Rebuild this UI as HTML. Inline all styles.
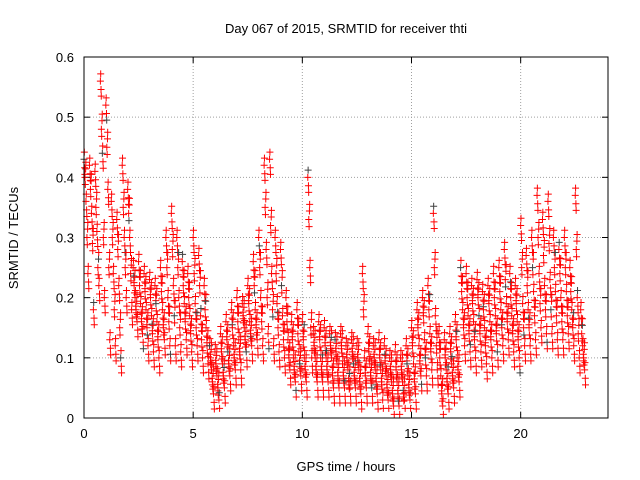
<!DOCTYPE html>
<html><head><meta charset="utf-8"><style>
body{margin:0;background:#fff}
svg{display:block;font-family:"Liberation Sans",sans-serif}
</style></head><body>
<svg id="chart" width="640" height="480">
<text x="346" y="33" text-anchor="middle" font-size="13">Day 067 of 2015, SRMTID for receiver thti</text>
<text x="346" y="471" text-anchor="middle" font-size="13">GPS time / hours</text>
<text transform="translate(18,238) rotate(-90)" text-anchor="middle" font-size="13">SRMTID / TECUs</text>
<g id="grid"></g><g id="ticks"></g><g id="points"></g>
<rect x="84" y="57" width="524" height="361" fill="none" stroke="#000" stroke-width="1"/>
</svg>
<script>
const xTicks=[0,5,10,15,20];
const yTicks=[0,0.1,0.2,0.3,0.4,0.5,0.6];
const yTickLabels=["0","0.1","0.2","0.3","0.4","0.5","0.6"];
const binTimes=[0,0.25,0.5,0.75,1,1.25,1.5,1.75,2,2.25,2.5,2.75,3,3.25,3.5,3.75,4,4.25,4.5,4.75,5,5.25,5.5,5.75,6,6.25,6.5,6.75,7,7.25,7.5,7.75,8,8.25,8.5,8.75,9,9.25,9.5,9.75,10,10.25,10.5,10.75,11,11.25,11.5,11.75,12,12.25,12.5,12.75,13,13.25,13.5,13.75,14,14.25,14.5,14.75,15,15.25,15.5,15.75,16,16.25,16.5,16.75,17,17.25,17.5,17.75,18,18.25,18.5,18.75,19,19.25,19.5,19.75,20,20.25,20.5,20.75,21,21.25,21.5,21.75,22,22.25,22.5,22.75];
const binValues=[
[.43,.40,.36,.30,.24],[.42,.38,.34,.29,.18],[.41,.35,.31,.25,.22],[.56,.48,.44,.30,.20],[.52,.45,.38,.25,.13],
[.36,.30,.24,.18,.12],[.33,.28,.22,.15,.10],[.42,.35,.30,.25,.20],[.38,.34,.30,.24,.18],[.25,.22,.20,.18,.16],
[.26,.22,.19,.16,.14],[.24,.21,.18,.15,.12],[.23,.20,.17,.14,.11],[.22,.19,.16,.13,.10],[.25,.21,.18,.15,.13],
[.30,.25,.20,.16,.12],[.34,.28,.22,.17,.12],[.30,.25,.20,.15,.11],[.26,.22,.19,.16,.13],[.24,.20,.17,.14,.11],
[.30,.24,.19,.15,.12],[.27,.22,.17,.13,.10],[.22,.18,.15,.12,.09],[.12,.10,.08,.06,.04],[.11,.09,.07,.05,.03],
[.14,.11,.09,.07,.05],[.16,.13,.11,.09,.07],[.18,.15,.12,.10,.08],[.20,.16,.13,.11,.08],[.19,.17,.15,.13,.11],
[.22,.19,.16,.14,.12],[.26,.22,.18,.15,.13],[.30,.25,.20,.16,.12],[.42,.35,.28,.20,.14],[.43,.32,.24,.18,.12],
[.30,.24,.19,.15,.11],[.28,.22,.17,.13,.10],[.20,.16,.13,.10,.08],[.16,.13,.10,.08,.06],[.18,.14,.11,.09,.07],
[.16,.13,.10,.08,.06],[.40,.33,.25,.15,.10],[.14,.12,.10,.08,.06],[.16,.13,.10,.08,.06],[.15,.12,.10,.08,.06],
[.14,.12,.10,.07,.05],[.13,.11,.09,.07,.05],[.14,.12,.09,.07,.05],[.12,.10,.08,.06,.05],[.13,.11,.09,.07,.05],
[.12,.10,.08,.06,.04],[.24,.18,.10,.07,.05],[.14,.11,.09,.07,.05],[.12,.10,.08,.06,.04],[.13,.10,.08,.06,.03],
[.12,.09,.07,.05,.03],[.10,.08,.06,.04,.02],[.11,.08,.06,.04,.02],[.10,.08,.06,.04,.03],[.12,.09,.07,.05,.03],
[.15,.12,.09,.06,.04],[.18,.15,.12,.09,.07],[.20,.17,.13,.10,.07],[.22,.18,.14,.11,.08],[.34,.25,.17,.12,.08],
[.14,.10,.07,.04,.02],[.13,.10,.08,.06,.04],[.14,.11,.09,.07,.05],[.16,.13,.10,.08,.06],[.25,.21,.18,.15,.12],
[.24,.20,.17,.14,.11],[.22,.19,.16,.13,.10],[.23,.20,.17,.14,.11],[.21,.18,.15,.12,.09],[.22,.19,.16,.13,.10],
[.24,.20,.17,.14,.11],[.25,.21,.18,.15,.12],[.28,.23,.19,.16,.13],[.24,.20,.17,.14,.11],[.22,.19,.16,.13,.10],
[.32,.25,.19,.15,.12],[.27,.22,.18,.15,.12],[.30,.25,.21,.17,.13],[.37,.30,.24,.19,.15],[.33,.27,.22,.18,.14],
[.36,.29,.23,.18,.14],[.30,.25,.21,.17,.13],[.28,.24,.20,.16,.13],[.30,.25,.21,.17,.14],[.25,.21,.18,.15,.12],
[.37,.28,.20,.14,.10],[.18,.14,.12,.10,.08]];
const X0=84,X1=608,Y0=418,Y1=57;
const xs=t=>X0+t/24*(X1-X0);
const ys=v=>Y0-v/0.6*(Y0-Y1);
const NS="http://www.w3.org/2000/svg";
const grid=document.getElementById('grid'),ticks=document.getElementById('ticks'),pts=document.getElementById('points');
function mk(tag,attrs,parent){const e=document.createElementNS(NS,tag);for(const k in attrs)e.setAttribute(k,attrs[k]);parent.appendChild(e);return e;}
xTicks.forEach(t=>{const x=xs(t);
 if(t>0){const g=mk('line',{x1:x,x2:x,y1:Y0,y2:Y1,stroke:'#a0a0a0','stroke-dasharray':'1,2'},grid);
 
 }
 mk('line',{x1:x,x2:x,y1:Y0,y2:Y0-6,stroke:'#000'},ticks);mk('line',{x1:x,x2:x,y1:Y1,y2:Y1+6,stroke:'#000'},ticks);
 const l=mk('text',{x:x,y:Y0+20,'text-anchor':'middle','font-size':13},ticks);l.textContent=t;
 
 });
yTicks.forEach((v,i)=>{const y=ys(v);
 if(i>0&&i<yTicks.length-1){const g=mk('line',{x1:X0,x2:X1,y1:y,y2:y,stroke:'#a0a0a0','stroke-dasharray':'1,2'},grid);
 
 }
 mk('line',{x1:X0,x2:X0+6,y1:y,y2:y,stroke:'#000'},ticks);mk('line',{x1:X1,x2:X1-6,y1:y,y2:y,stroke:'#000'},ticks);
 const l=mk('text',{x:X0-10,y:y+5,'text-anchor':'end','font-size':13},ticks);l.textContent=yTickLabels[i];
 
 });
const jitterT=[0,0.03,0.015,0.04];
const jitterV=[0,0.014,-0.012,0.025];
binTimes.forEach((t,i)=>{binValues[i].forEach((v,j)=>{
 [0,1,2,3].forEach(k=>{const tt=t+j*0.045+jitterT[k];const vv=v+((j%2)?jitterV[k]:-jitterV[k]);
 if(vv<0.005)return;
 const x=xs(tt),y=ys(vv);
 const p=mk('path',{d:`M${x-3.5},${y}h7M${x},${y-3.5}v7`,stroke:((i*5+j*4+k)%23==0)?'#404040':'#ff0000','stroke-width':1},pts);
 
 });});});
</script>
</body></html>
